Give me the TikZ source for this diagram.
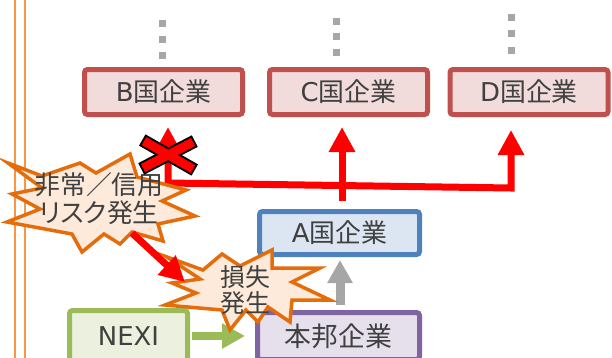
\documentclass[tikz,border=0pt]{standalone}
\usepackage{fontspec}
\setmainfont{DejaVu Sans}
\newfontfamily\jp{Noto Sans CJK JP}
\newfontfamily\jpp[RawFeature=+palt]{Noto Sans CJK JP}
\usetikzlibrary{arrows.meta,calc}
\definecolor{txt}{HTML}{404040}
\definecolor{redB}{HTML}{C0504D}
\definecolor{redF}{HTML}{F2DCDB}
\definecolor{bluB}{HTML}{4F81BD}
\definecolor{bluF}{HTML}{DCE6F2}
\definecolor{purB}{HTML}{8064A2}
\definecolor{purF}{HTML}{E5E0EC}
\definecolor{grnB}{HTML}{9BBB59}
\definecolor{grnF}{HTML}{EBF1DE}
\definecolor{orgB}{HTML}{E46C0A}
\definecolor{orgF}{HTML}{FDEADA}
\definecolor{orgL}{HTML}{F79646}
\definecolor{dotG}{HTML}{A6A6A6}
\definecolor{arrG}{HTML}{A6A6A6}
\tikzset{
  box/.style={draw, line width=5bp, rounded corners=3bp, inner sep=0pt,
    text=txt, font=\fontsize{26}{30}\selectfont},
  redbox/.style={box, draw=redB, fill=redF, minimum width=158bp, minimum height=45bp},
  bluebox/.style={box, draw=bluB, fill=bluF, minimum width=160bp, minimum height=43bp},
  purbox/.style={box, draw=purB, fill=purF, minimum width=162bp, minimum height=47bp},
  grnbox/.style={box, draw=grnB, fill=grnF, minimum width=118bp, minimum height=51bp},
  redarr/.style={draw=red, line width=7bp, -{Triangle[width=25bp,length=25bp]}},
  grnarr/.style={draw=grnB, line width=8bp, -{Triangle[width=24bp,length=23bp]}},
  grayarr/.style={draw=arrG, line width=9bp, -{Triangle[width=24bp,length=23bp]}},
  burst/.style={draw=orgB, fill=orgF, line width=3.5bp, line join=miter},
  bursttext/.style={text=txt, align=center, inner sep=0pt},
  dotsq/.style={fill=dotG},
  sep/.style={draw=orgL, line width=2.5bp},
}
\begin{document}
\begin{tikzpicture}[x=1bp,y=-1bp]
\useasboundingbox (0,0) rectangle (612,357);
\clip (0,0) rectangle (612,357);
% separator lines
\draw[sep] (15,-5) -- (15,362);
\draw[sep] (25,-5) -- (25,362);
% continuation dots
\foreach \x/\y in {162/23,162/39,162/55,336/21,336/36,336/52,511/17,511/33,511/50}
  \fill[dotsq] (\x-3.5,\y-3.5) rectangle (\x+3.5,\y+3.5);
% boxes
\node[redbox] (B) at (163.5,92) {B{\jp 国企業}};
\node[redbox] (C) at (348.5,92) {C{\jp 国企業}};
\node[redbox] (D) at (529,92) {D{\jp 国企業}};
\node[bluebox] (A) at (339.5,233) {A{\jp 国企業}};
\node[purbox, font=\fontsize{27}{30}\selectfont] (H) at (338.5,336) {\jp 本邦企業};
\node[grnbox] (N) at (128.5,336) {NEXI};
% red arrows
\coordinate (cx) at (342,0);
\coordinate (j) at (168,183);
\coordinate (k) at (511,188);
\draw[redarr] ([yshift=8bp]A.north -| cx) -- ([yshift=-10bp]C.south -| cx);
\draw[draw=red, line width=7bp, line join=miter,
  {Triangle[width=25bp,length=25bp]}-{Triangle[width=25bp,length=25bp]}]
  ([yshift=-10bp]B.south -| j) -- (j) -- (k) -- ([yshift=-13bp]D.south -| k);
% gray and green arrows
\draw[grayarr, shorten <=5bp, shorten >=3bp] ([xshift=1.5bp]H.north) -- ([xshift=1.5bp]H.north |- A.south);
\draw[grnarr, shorten <=2bp, shorten >=10bp] (N.east) -- (H.west);
% bursts
\draw[burst] (8,163) -- (42,176) -- (80,163) -- (96,173) -- (130,154) -- (137,177)
  -- (186,190) -- (162,201) -- (195,216) -- (158,224) -- (163,241) -- (132,232)
  -- (120,244) -- (104,234) -- (82,252) -- (72,234) -- (7,222) -- (40,209)
  -- (12,194) -- (42,188) -- cycle;
\draw[burst] (167,257) -- (203,270) -- (222,254) -- (240,266) -- (272,250) -- (272,268)
  -- (320,268) -- (292,282) -- (330,300) -- (292,300) -- (290,322) -- (268,307)
  -- (258,322) -- (246,310) -- (230,330) -- (222,310) -- (165,305) -- (196,293)
  -- (172,283) -- (200,279) -- cycle;
\node[bursttext, font=\fontsize{26}{28}\selectfont] (e1) at (99,199)
  {\jp 非常／信用\\\jpp リスク発生};
\node[bursttext, font=\fontsize{25}{26}\selectfont] (e2) at (245,290)
  {\jp 損失\\\jp 発生};
% red X
\coordinate (x1) at (144,141);
\coordinate (x2) at (193,169);
\coordinate (x3) at (193,142);
\coordinate (x4) at (143,168);
\draw[black, line width=13bp, shorten <=-2bp, shorten >=-2bp] (x1) -- (x2);
\draw[black, line width=13bp, shorten <=-2bp, shorten >=-2bp] (x3) -- (x4);
\draw[red, line width=9bp] (x1) -- (x2);
\draw[red, line width=9bp] (x3) -- (x4);
% arrow from risk to loss
\coordinate (r1) at (132,233);
\coordinate (r2) at (185,282);
\draw[redarr] (r1) -- (r2);
\end{tikzpicture}
\end{document}
